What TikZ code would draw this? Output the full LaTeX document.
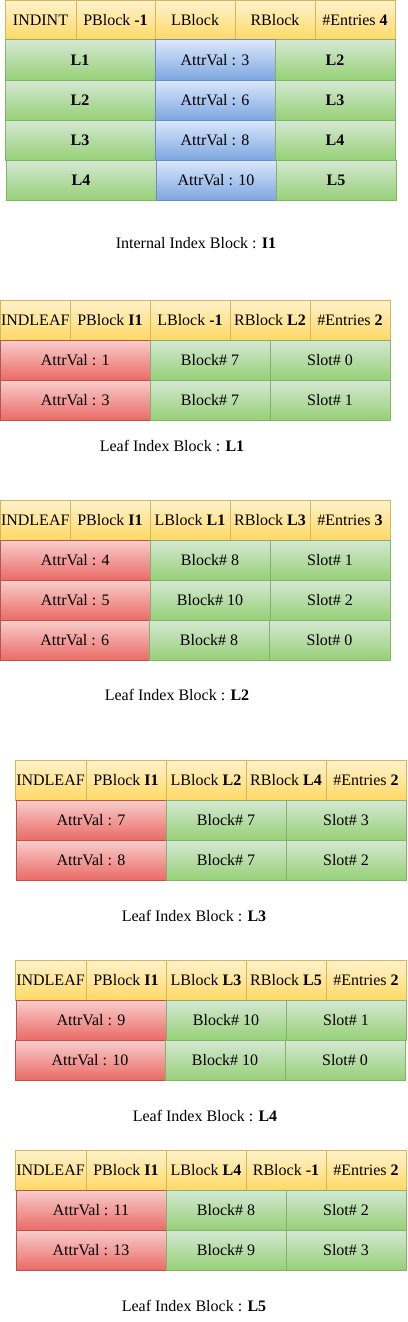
\documentclass[tikz,border=0pt]{standalone}
\usepackage{fontspec}
\setmainfont{Liberation Serif}
\definecolor{yfill}{HTML}{FFF2CC}\definecolor{ygrad}{HTML}{FFD966}\definecolor{ystroke}{HTML}{D6B656}
\definecolor{gfill}{HTML}{D5E8D4}\definecolor{ggrad}{HTML}{97D077}\definecolor{gstroke}{HTML}{82B366}
\definecolor{bfill}{HTML}{DAE8FC}\definecolor{bgrad}{HTML}{7EA6E0}\definecolor{bstroke}{HTML}{6C8EBF}
\definecolor{rfill}{HTML}{F8CECC}\definecolor{rgrad}{HTML}{EA6B66}\definecolor{rstroke}{HTML}{B85450}
\tikzset{
  cellbox/.style={rectangle, inner sep=0pt, outer sep=0pt, line width=1pt, font=\fontsize{16}{18}\selectfont},
  ycell/.style={cellbox, draw=ystroke, top color=yfill, bottom color=ygrad},
  gcell/.style={cellbox, draw=gstroke, top color=gfill, bottom color=ggrad},
  bcell/.style={cellbox, draw=bstroke, top color=bfill, bottom color=bgrad},
  rcell/.style={cellbox, draw=rstroke, top color=rfill, bottom color=rgrad},
  captxt/.style={inner sep=0pt, font=\fontsize{16}{18}\selectfont}
}
% \cellnode{name}{style}{x1}{y1}{x2}{y2}{text}
\newcommand\cellnode[7]{\node[#2, minimum width={(#5-#3)*1pt}, minimum height={(#6-#4)*1pt}] (#1) at ({(#3+#5)/2},{(#4+#6)/2}) {#7};}
\begin{document}
\begin{tikzpicture}[x=1pt,y=-1pt]
\useasboundingbox (0,0) rectangle (407,1322);
% ---------- Internal block I1 ----------
\cellnode{iA}{ycell}{5}{0.5}{76}{40}{INDINT}
\cellnode{iB}{ycell}{76}{0.5}{155}{40}{PBlock \textbf{-1}}
\cellnode{iC}{ycell}{155}{0.5}{235}{40}{LBlock}
\cellnode{iD}{ycell}{235}{0.5}{315}{40}{RBlock}
\cellnode{iE}{ycell}{315}{0.5}{395}{40}{\#Entries \textbf{4}}
\cellnode{i1a}{gcell}{5}{40}{155}{80}{\textbf{L1}}
\cellnode{i1b}{bcell}{155}{40}{275}{80}{AttrVal : 3}
\cellnode{i1c}{gcell}{275}{40}{395}{80}{\textbf{L2}}
\cellnode{i2a}{gcell}{5}{80}{155}{120}{\textbf{L2}}
\cellnode{i2b}{bcell}{155}{80}{275}{120}{AttrVal : 6}
\cellnode{i2c}{gcell}{275}{80}{395}{120}{\textbf{L3}}
\cellnode{i3a}{gcell}{5}{120}{155}{160}{\textbf{L3}}
\cellnode{i3b}{bcell}{155}{120}{275}{160}{AttrVal : 8}
\cellnode{i3c}{gcell}{275}{120}{395}{160}{\textbf{L4}}
\cellnode{i4a}{gcell}{6}{160}{156}{200}{\textbf{L4}}
\cellnode{i4b}{bcell}{156}{160}{276}{200}{AttrVal : 10}
\cellnode{i4c}{gcell}{276}{160}{396}{200}{\textbf{L5}}
\node[captxt] (capI1) at (196,243) {Internal Index Block : \textbf{I1}};
% ---------- Leaf L1 ----------
\cellnode{aA}{ycell}{0.5}{300}{70}{340}{INDLEAF}
\cellnode{aB}{ycell}{70}{300}{150}{340}{PBlock \textbf{I1}}
\cellnode{aC}{ycell}{150}{300}{230}{340}{LBlock \textbf{-1}}
\cellnode{aD}{ycell}{230}{300}{310}{340}{RBlock \textbf{L2}}
\cellnode{aE}{ycell}{310}{300}{390}{340}{\#Entries \textbf{2}}
\cellnode{a1a}{rcell}{0.5}{340}{150}{380}{AttrVal : 1}
\cellnode{a1b}{gcell}{150}{340}{270}{380}{Block\# 7}
\cellnode{a1c}{gcell}{270}{340}{390}{380}{Slot\# 0}
\cellnode{a2a}{rcell}{0.5}{380}{150}{420}{AttrVal : 3}
\cellnode{a2b}{gcell}{150}{380}{270}{420}{Block\# 7}
\cellnode{a2c}{gcell}{270}{380}{390}{420}{Slot\# 1}
\node[captxt] (capL1) at (172,446) {Leaf Index Block : \textbf{L1}};
% ---------- Leaf L2 ----------
\cellnode{bA}{ycell}{0.5}{500}{70}{540}{INDLEAF}
\cellnode{bB}{ycell}{70}{500}{150}{540}{PBlock \textbf{I1}}
\cellnode{bC}{ycell}{150}{500}{230}{540}{LBlock \textbf{L1}}
\cellnode{bD}{ycell}{230}{500}{310}{540}{RBlock \textbf{L3}}
\cellnode{bE}{ycell}{310}{500}{390}{540}{\#Entries \textbf{3}}
\cellnode{b1a}{rcell}{0.5}{540}{150}{580}{AttrVal : 4}
\cellnode{b1b}{gcell}{150}{540}{270}{580}{Block\# 8}
\cellnode{b1c}{gcell}{270}{540}{390}{580}{Slot\# 1}
\cellnode{b2a}{rcell}{0.5}{580}{150}{620}{AttrVal : 5}
\cellnode{b2b}{gcell}{150}{580}{270}{620}{Block\# 10}
\cellnode{b2c}{gcell}{270}{580}{390}{620}{Slot\# 2}
\cellnode{b3a}{rcell}{0.5}{620}{149}{660}{AttrVal : 6}
\cellnode{b3b}{gcell}{149}{620}{269}{660}{Block\# 8}
\cellnode{b3c}{gcell}{269}{620}{390}{660}{Slot\# 0}
\node[captxt] (capL2) at (177,695) {Leaf Index Block : \textbf{L2}};
% ---------- Leaf L3 ----------
\cellnode{cA}{ycell}{15}{760}{86}{800}{INDLEAF}
\cellnode{cB}{ycell}{86}{760}{166}{800}{PBlock \textbf{I1}}
\cellnode{cC}{ycell}{166}{760}{246}{800}{LBlock \textbf{L2}}
\cellnode{cD}{ycell}{246}{760}{326}{800}{RBlock \textbf{L4}}
\cellnode{cE}{ycell}{326}{760}{406}{800}{\#Entries \textbf{2}}
\cellnode{c1a}{rcell}{16}{800}{166}{840}{AttrVal : 7}
\cellnode{c1b}{gcell}{166}{800}{286}{840}{Block\# 7}
\cellnode{c1c}{gcell}{286}{800}{406}{840}{Slot\# 3}
\cellnode{c2a}{rcell}{16}{840}{166}{880}{AttrVal : 8}
\cellnode{c2b}{gcell}{166}{840}{286}{880}{Block\# 7}
\cellnode{c2c}{gcell}{286}{840}{406}{880}{Slot\# 2}
\node[captxt] (capL3) at (194,916) {Leaf Index Block : \textbf{L3}};
% ---------- Leaf L4 ----------
\cellnode{dA}{ycell}{15}{960}{86}{1000}{INDLEAF}
\cellnode{dB}{ycell}{86}{960}{166}{1000}{PBlock \textbf{I1}}
\cellnode{dC}{ycell}{166}{960}{246}{1000}{LBlock \textbf{L3}}
\cellnode{dD}{ycell}{246}{960}{326}{1000}{RBlock \textbf{L5}}
\cellnode{dE}{ycell}{326}{960}{406}{1000}{\#Entries \textbf{2}}
\cellnode{d1a}{rcell}{16}{1000}{166}{1040}{AttrVal : 9}
\cellnode{d1b}{gcell}{166}{1000}{286}{1040}{Block\# 10}
\cellnode{d1c}{gcell}{286}{1000}{406}{1040}{Slot\# 1}
\cellnode{d2a}{rcell}{15}{1040}{165}{1080}{AttrVal : 10}
\cellnode{d2b}{gcell}{165}{1040}{285}{1080}{Block\# 10}
\cellnode{d2c}{gcell}{285}{1040}{405}{1080}{Slot\# 0}
\node[captxt] (capL4) at (205,1116) {Leaf Index Block : \textbf{L4}};
% ---------- Leaf L5 ----------
\cellnode{eA}{ycell}{15}{1150}{86}{1190}{INDLEAF}
\cellnode{eB}{ycell}{86}{1150}{166}{1190}{PBlock \textbf{I1}}
\cellnode{eC}{ycell}{166}{1150}{246}{1190}{LBlock \textbf{L4}}
\cellnode{eD}{ycell}{246}{1150}{326}{1190}{RBlock \textbf{-1}}
\cellnode{eE}{ycell}{326}{1150}{406}{1190}{\#Entries \textbf{2}}
\cellnode{e1a}{rcell}{16}{1190}{166}{1230}{AttrVal : 11}
\cellnode{e1b}{gcell}{166}{1190}{286}{1230}{Block\# 8}
\cellnode{e1c}{gcell}{286}{1190}{406}{1230}{Slot\# 2}
\cellnode{e2a}{rcell}{16}{1230}{166}{1270}{AttrVal : 13}
\cellnode{e2b}{gcell}{166}{1230}{286}{1270}{Block\# 9}
\cellnode{e2c}{gcell}{286}{1230}{406}{1270}{Slot\# 3}
\node[captxt] (capL5) at (194,1306) {Leaf Index Block : \textbf{L5}};
\end{tikzpicture}
\end{document}
